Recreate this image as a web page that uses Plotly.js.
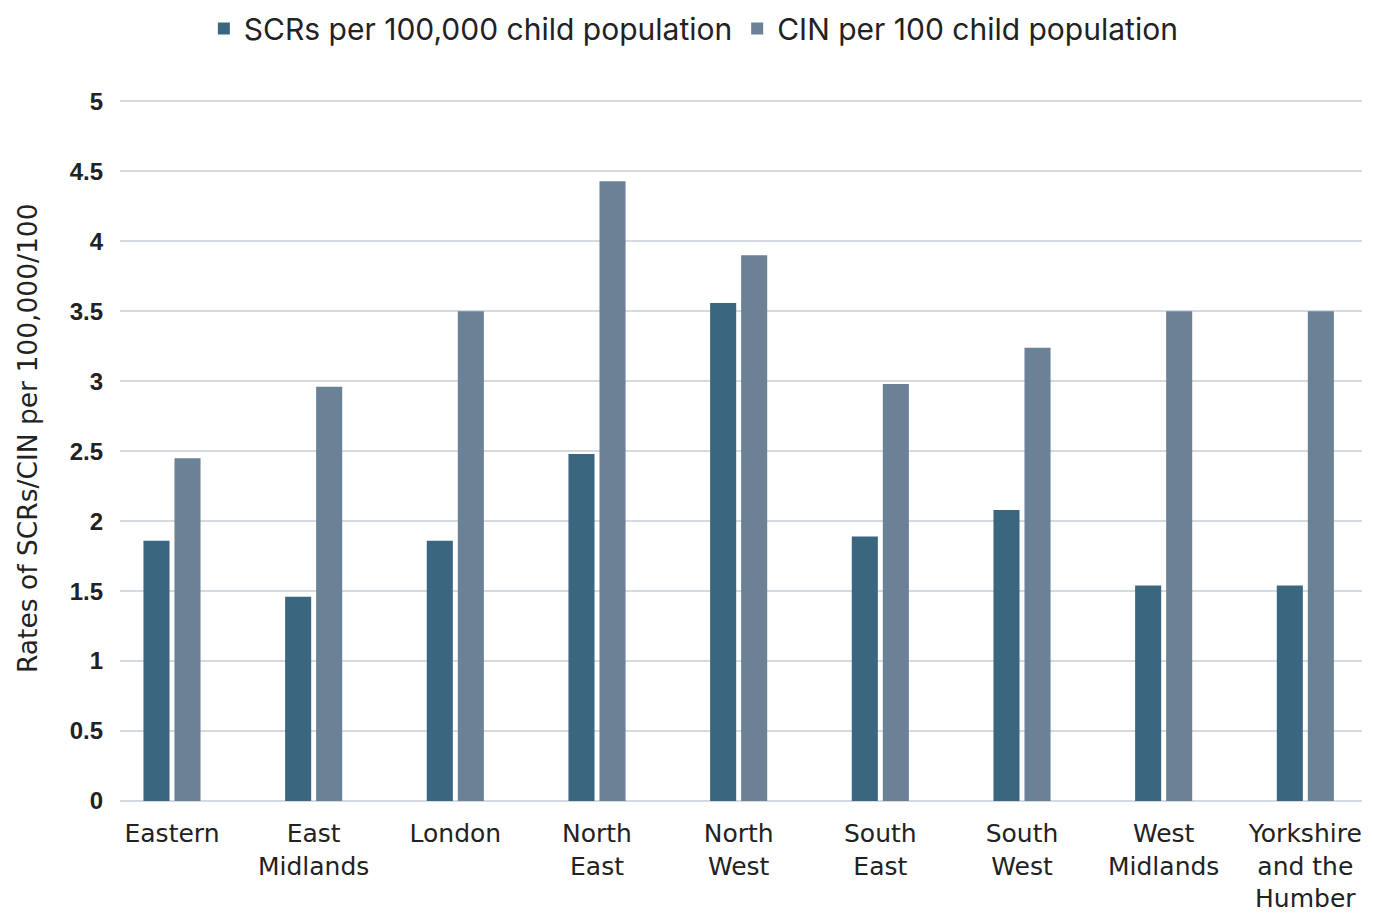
<!DOCTYPE html>
<html>
<head>
<meta charset="utf-8">
<script src="https://cdn.plot.ly/plotly-3.0.1.min.js"></script>
<style>body{margin:0;padding:0;background:#fff;} #chart{width:1373px;height:917px;}</style>
</head>
<body>
<div id="chart"></div>
<script>
const categories = ["Eastern", "East<br>Midlands", "London", "North<br>East", "North<br>West", "South<br>East", "South<br>West", "West<br>Midlands", "Yorkshire<br>and the<br>Humber"];
const scrValues = [1.86, 1.46, 1.86, 2.48, 3.56, 1.89, 2.08, 1.54, 1.54];
const cinValues = [2.45, 2.96, 3.5, 4.43, 3.9, 2.98, 3.24, 3.5, 3.5];
const seriesNames = ["SCRs per 100,000 child population", "CIN per 100 child population"];
const yTickVals = [0, 0.5, 1, 1.5, 2, 2.5, 3, 3.5, 4, 4.5, 5];
const yTitle = "Rates of SCRs/CIN per 100,000/100";

const FONT = "Inter, 'Liberation Sans', sans-serif";
const WIDE = "'DejaVu Sans', sans-serif";
const data = [
  {type: "bar", name: seriesNames[0], x: categories, y: scrValues, marker: {color: "#3B6680"}},
  {type: "bar", name: seriesNames[1], x: categories, y: cinValues, marker: {color: "#6B8196"}}
];
const layout = {
  width: 1373, height: 917,
  margin: {l: 120, r: 11, t: 100, b: 116},
  paper_bgcolor: "#fff", plot_bgcolor: "#fff",
  font: {family: FONT, color: "#222", size: 26},
  barmode: "group", bargap: 0.562, bargroupgap: 0.16,
  showlegend: true,
  legend: {orientation: "h", xref: "container", yref: "container", x: 0.505, xanchor: "center", y: 0.969, yanchor: "middle",
           font: {size: 30, color: "#222"}, traceorder: "normal", itemwidth: 30},
  xaxis: {type: "category", range: [-0.367, 8.40], showgrid: false, zeroline: false, showline: false,
          ticks: "", tickfont: {size: 25, color: "#222", family: WIDE}, ticklabelstandoff: 15, automargin: false},
  yaxis: {range: [0, 5.01], tickvals: yTickVals, ticktext: yTickVals.map(String), showgrid: true, gridcolor: "#D5D9E0", gridwidth: 2,
          zeroline: true, zerolinecolor: "#D5D9E0", zerolinewidth: 2, showline: false, ticks: "",
          tickfont: {size: 24, color: "#222", family: "'Liberation Sans', Arial, sans-serif", weight: "bold"},
          ticklabelstandoff: 16, automargin: false},
  annotations: [{text: yTitle, xref: "paper", yref: "paper", x: -93/1242, y: (801-438)/701, xanchor: "center", yanchor: "middle",
                 textangle: -90, showarrow: false, font: {size: 26.5, color: "#222", family: WIDE}}]
};
Plotly.newPlot("chart", data, layout, {displayModeBar: false, staticPlot: true});
</script>
</body>
</html>
